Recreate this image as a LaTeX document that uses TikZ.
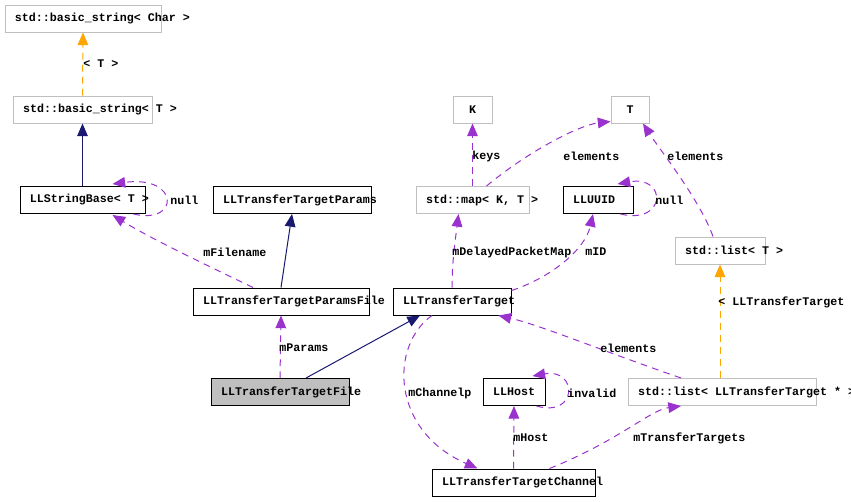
\documentclass[tikz,border=0pt]{standalone}
\usepackage{fontspec}
\setmonofont{Liberation Mono}
\usetikzlibrary{arrows.meta,calc}
\definecolor{inhc}{HTML}{191970}
\definecolor{usec}{HTML}{9A32CD}
\definecolor{tmplc}{HTML}{FFA500}
\definecolor{grayb}{HTML}{BFBFBF}
\newcommand{\bxtext}[1]{\mbox{\spaceskip=5.25pt\relax\xspaceskip=5.25pt\relax #1}}
\begin{document}
\begin{tikzpicture}[x=0.75pt,y=-0.75pt,
  font={\ttfamily\bfseries\fontsize{8.75pt}{10pt}\selectfont\frenchspacing},
  cls/.style={draw=black, line width=0.75pt, minimum height=20.25pt, inner xsep=7.5pt, inner ysep=0pt, align=left},
  extcls/.style={cls, draw=grayb},
  lbl/.style={inner sep=0pt, anchor=west},
  tip/.style={-{Triangle[length=9.5pt,width=8pt]}},
  inh/.style={draw=inhc, line width=0.75pt, tip},
  usage/.style={draw=usec, line width=0.75pt, dash pattern=on 5pt off 4pt, tip},
  tmpl/.style={draw=tmplc, line width=0.75pt, dash pattern=on 5pt off 4pt, tip}]
\useasboundingbox (0,0) rectangle (851,501);
% classes
\node[extcls, text width=102pt] (bsChar) at (83,18.5) {\bxtext{std::basic\_string< Char >}};
\node[extcls, text width=89.25pt] (bsT) at (82.5,109.5) {\bxtext{std::basic\_string< T >}};
\node[cls, text width=78.75pt] (sb) at (82.5,200) {\bxtext{LLStringBase< T >}};
\node[cls, text width=103.5pt] (ttp) at (292,200) {\bxtext{LLTransferTargetParams}};
\node[extcls, text width=69.75pt] (map) at (472.5,200) {\bxtext{std::map< K, T >}};
\node[cls, text width=37.5pt] (uuid) at (598,200) {\bxtext{LLUUID}};
\node[extcls, minimum width=29.25pt, align=center] (K) at (472.5,109.5) {K};
\node[extcls, minimum width=28.5pt, align=center] (T) at (630,109.5) {T};
\node[extcls, text width=52.5pt] (listT) at (720,250.5) {\bxtext{std::list< T >}};
\node[cls, text width=117pt] (ttpf) at (281,301.5) {\bxtext{LLTransferTargetParamsFile}};
\node[cls, text width=73.5pt] (tt) at (452,301.5) {\bxtext{LLTransferTarget}};
\node[cls, fill=grayb, text width=88.5pt] (ttf) at (280,392) {\bxtext{LLTransferTargetFile}};
\node[cls, text width=31.5pt] (host) at (514,392) {\bxtext{LLHost}};
\node[extcls, text width=126pt] (listTT) at (722,392) {\bxtext{std::list< LLTransferTarget * >}};
\node[cls, text width=107.25pt] (ttc) at (513.5,482.5) {\bxtext{LLTransferTargetChannel}};
% inheritance
\draw[inh] (sb.north) -- (bsT.south);
\draw[inh] (ttpf.north) -- (ttp.south);
\draw[inh] ($(ttf.north)+(26,0)$) -- ($(tt.south)+(-32,0)$);
% template instances
\draw[tmpl] (bsT.north) -- (bsChar.south);
\node[lbl] (lT) at (83,64) {< T >};
\draw[tmpl] ($(listTT.north)+(-2,0)$) -- (listT.south);
\node[lbl] (lLTT) at (718,302) {< LLTransferTarget};
% usage
\draw[usage] ($(sb.south east)+(-12,0)$) .. controls (180,225) and (180,175) .. ($(sb.north east)+(-33,-2)$);
\node[lbl] (lnull1) at (170,200) {null};
\draw[usage] ($(ttpf.north)+(-28,0)$) .. controls (200,262) and (150,238) .. ($(sb.south)+(30,1)$);
\node[lbl] (lfile) at (203,252) {mFilename};
\draw[usage] ($(uuid.south east)+(-13,0)$) .. controls (667,225) and (667,175) .. ($(uuid.north east)+(-16,-2)$);
\node[lbl] (lnull2) at (655,200) {null};
\draw[usage] (tt.north) .. controls (452,260) and (456,235) .. ($(map.south)+(-14,0)$);
\node[lbl] (ldel) at (452,252) {mDelayedPacketMap};
\draw[usage] ($(tt.north east)+(0,3)$) .. controls (550,278) and (585,250) .. ($(uuid.south)+(-5,0)$);
\node[lbl] (lid) at (585,252) {mID};
\draw[usage] (map.north) -- (K.south);
\node[lbl] (lkeys) at (472,156) {keys};
\draw[usage] ($(map.north)+(14,0)$) .. controls (530,150) and (580,125) .. ($(T.south west)+(0,-2)$);
\node[lbl] (lel1) at (563,156) {elements};
\draw[usage] ($(listT.north)+(-7,0)$) .. controls (700,200) and (660,150) .. ($(T.south)+(13,0)$);
\node[lbl] (lel2) at (667,156) {elements};
\draw[usage] (ttf.north) -- (ttpf.south);
\node[lbl] (lpar) at (279,348) {mParams};
\draw[usage] ($(listTT.north)+(-41,0)$) .. controls (600,350) and (540,325) .. ($(tt.south east)+(-13,0)$);
\node[lbl] (lel3) at (600,348) {elements};
\draw[usage] ($(tt.south)+(-20,0)$) .. controls (390,345) and (390,430) .. ($(ttc.north)+(-36,0)$);
\node[lbl] (lchan) at (408,393) {mChannelp};
\draw[usage] (ttc.north) -- (host.south);
\node[lbl] (lhost) at (513,438) {mHost};
\draw[usage] ($(ttc.north)+(36,0)$) .. controls (620,440) and (650,410) .. ($(listTT.south)+(-41,0)$);
\node[lbl] (ltt) at (633,438) {mTransferTargets};
\draw[usage] ($(host.south east)+(-9,0)$) .. controls (578,418) and (578,368) .. ($(host.north east)+(-13,-2)$);
\node[lbl] (linv) at (567,393) {invalid};
\end{tikzpicture}
\end{document}
